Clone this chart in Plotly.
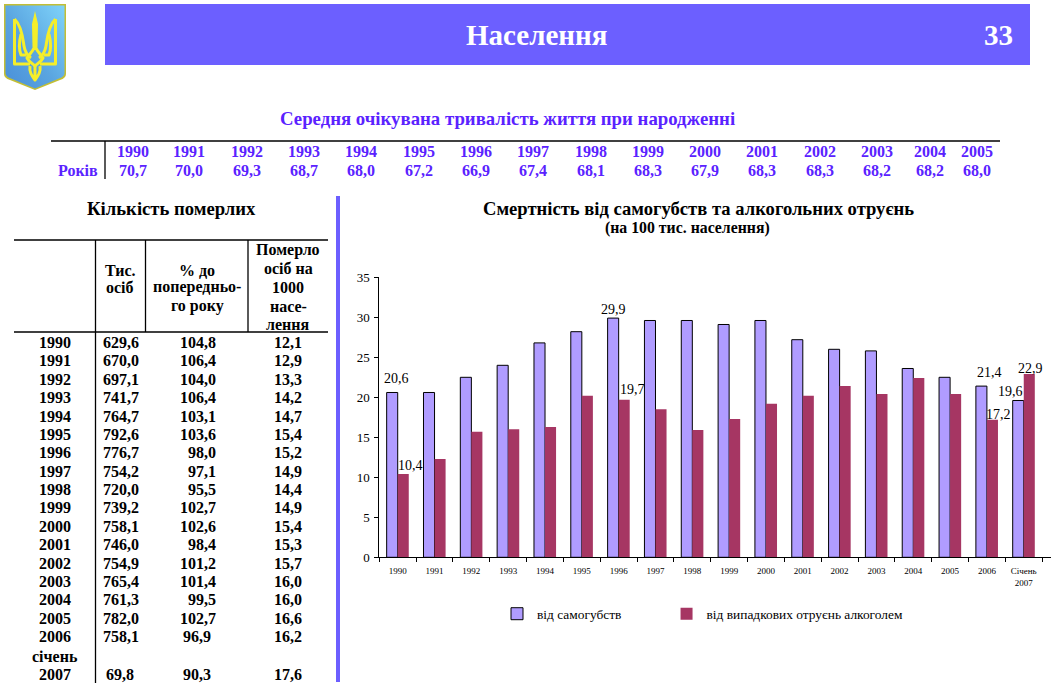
import base64
import plotly.graph_objects as go

categories = [str(y) for y in range(1990, 2007)] + ["Січень<br>2007"]
suicide = [20.6, 20.6, 22.5, 24.0, 26.8, 28.2, 29.9, 29.6, 29.6, 29.1, 29.6, 27.2, 26.0, 25.8, 23.6, 22.5, 21.4, 19.6]
alcohol = [10.4, 12.3, 15.7, 16.0, 16.3, 20.2, 19.7, 18.5, 15.9, 17.3, 19.2, 20.2, 21.4, 20.4, 22.4, 20.4, 17.2, 22.9]

life_years = ["1990", "1991", "1992", "1993", "1994", "1995", "1996", "1997", "1998", "1999", "2000", "2001", "2002", "2003", "2004", "2005"]
life_values = ["70,7", "70,0", "69,3", "68,7", "68,0", "67,2", "66,9", "67,4", "68,1", "68,3", "67,9", "68,3", "68,3", "68,2", "68,2", "68,0"]

death_years = [str(y) for y in range(1990, 2007)] + ["2007"]
death_total = ["629,6", "670,0", "697,1", "741,7", "764,7", "792,6", "776,7", "754,2", "720,0", "739,2", "758,1", "746,0", "754,9", "765,4", "761,3", "782,0", "758,1", "69,8"]
death_pct = ["104,8", "106,4", "104,0", "106,4", "103,1", "103,6", "98,0", "97,1", "95,5", "102,7", "102,6", "98,4", "101,2", "101,4", "99,5", "102,7", "96,9", "90,3"]
death_rate = ["12,1", "12,9", "13,3", "14,2", "14,7", "15,4", "15,2", "14,9", "14,4", "14,9", "15,4", "15,3", "15,7", "16,0", "16,0", "16,6", "16,2", "17,6"]

W, H = 1051, 691
SERIF = "Liberation Serif"
PURPLE = "#5A22FF"
BANNER = "#6C5FFF"


def px(x):
    return x / W


def py(y):
    return 1 - y / H


ann = []


def text(x, y, s, size=16, color="#000", anchor="center", bold=True):
    ann.append(dict(
        x=px(x), y=py(y), xref="paper", yref="paper", text=f"<b>{s}</b>" if bold else s,
        showarrow=False, xanchor=anchor, yanchor="middle",
        font=dict(family=SERIF, size=size, color=color),
        borderpad=0, borderwidth=0,
    ))


shapes = []


def rect(x0, y0, x1, y1, color):
    shapes.append(dict(type="rect", xref="paper", yref="paper", x0=px(x0), x1=px(x1),
                       y0=py(y1), y1=py(y0), fillcolor=color, line=dict(width=0), layer="below"))


def line(x0, y0, x1, y1, width=1.3, color="#000"):
    shapes.append(dict(type="line", xref="paper", yref="paper", x0=px(x0), x1=px(x1),
                       y0=py(y0), y1=py(y1), line=dict(color=color, width=width)))


# banner
rect(105, 4, 1030, 65, BANNER)
text(536, 35, "Населення", size=29, color="#fff")
text(998, 35, "33", size=29, color="#fff")

# life expectancy table
text(507, 119, "Середня очікувана тривалість життя при народженні", size=18.8, color=PURPLE)
line(51, 141, 1000, 141)
line(105, 141, 105, 179)
life_x = [133, 189, 247, 304, 361, 419, 476, 533, 591, 648, 705, 762, 820, 877, 930, 977]
for cx, yr, val in zip(life_x, life_years, life_values):
    text(cx, 152, yr, size=16, color=PURPLE)
    text(cx, 170, val, size=16, color=PURPLE)
text(78, 170, "Років", size=16, color=PURPLE)

# deaths table
rect(336, 196, 340, 682, BANNER)
text(171, 209, "Кількість померлих", size=18.7)
line(14, 240, 328, 240)
line(14, 332, 328, 332)
line(95.5, 240, 95.5, 683)
line(145.5, 240, 145.5, 332)
line(248, 240, 248, 332)
text(120, 270, "Тис.", size=16)
text(120, 287, "осіб", size=16)
text(197, 270, "% до", size=16)
text(197, 287, "попередньо-", size=16)
text(197, 306, "го року", size=16)
for i, s in enumerate(["Померло", "осіб на", "1000", "насе-", "лення"]):
    text(288, 250 + 18.7 * i, s, size=16)

row_y = [342.5 + 18.38 * i for i in range(17)] + [674]
for i, (yy, yr, tot, pct, rate) in enumerate(zip(row_y, death_years, death_total, death_pct, death_rate)):
    text(54.5, yy, yr, size=16)
    text(134 if i == 17 else 139, yy, tot, size=16, anchor="right")
    text(211 if i >= 16 else 215.5, yy, pct, size=16, anchor="right")
    text(302, yy, rate, size=16, anchor="right")
text(54.5, 656, "січень", size=16)

# chart titles
text(698, 208, "Смертність від самогубств та алкогольних отруєнь", size=18.6)
text(687, 228, "(на 100 тис. населення)", size=15.8)


# data labels, placed on the data through the axes
def label(idx, values, dx, dy):
    ann.append(dict(x=idx, y=values[idx], xref="x", yref="y",
                    text=f"{values[idx]:.1f}".replace(".", ","), showarrow=False,
                    xshift=dx, yshift=dy, font=dict(family=SERIF, size=14, color="#000")))


for idx, dx, dy in [(0, -1, 14), (6, -5, 9), (16, 3, 14), (17, -13, 9)]:
    label(idx, suicide, dx, dy)
for idx, dx, dy in [(0, 13, 9), (6, 14, 10), (16, 12, 5), (17, 7, 6)]:
    label(idx, alcohol, dx, dy)

fig = go.Figure()
# the no-break spaces widen the first legend entry to the reference spacing
fig.add_bar(name="від самогубств" + "\u00a0" * 12, x=categories, y=suicide,
            marker=dict(color="#B09CFF", line=dict(color="#000", width=1)))
fig.add_bar(name="від випадкових отруєнь алкоголем", x=categories, y=alcohol,
            marker=dict(color="#A63663", line=dict(width=0)))

svg = """<svg xmlns="http://www.w3.org/2000/svg" width="72" height="95" viewBox="0 0 72 95">
<defs><linearGradient id="g" x1="1" y1="0" x2="0" y2="1">
<stop offset="0" stop-color="#7FD3FA"/><stop offset="0.55" stop-color="#5AA5E0"/><stop offset="1" stop-color="#4A8FD8"/></linearGradient></defs>
<path d="M4 4H66V74Q66 78 60 80L35 90L10 80Q4 78 4 74Z" fill="#C2BE35"/>
<path d="M5.500 5.500H64.500V73Q64.500 76.500 59 78.500L35 88.500L11 78.500Q5.500 76.500 5.500 73Z" fill="url(#g)"/>
<path d="M35 11L38 24L37.500 47H32.500L32 24Z" fill="#F5EE2A"/>
<g fill="none" stroke="#F5EE2A" stroke-width="3" stroke-linejoin="round">
<path d="M14.500 19V64H30M14.500 19C22 26 23 40 24 46C25 52 28 56 31 58" />
<path d="M55.500 19V64H40M55.500 19C48 26 47 40 46 46C45 52 42 56 39 58" />
<path d="M21 34C19 42 19 50 21 55H26M49 34C51 42 51 50 49 55H44" />
<path d="M27 58C30 54 33 51 35 46C37 51 40 54 43 58C41 62 38 63 35 66C32 63 29 62 27 58Z" />
<path d="M35 66V80M30 66C29 72 32 76 35 80C38 76 41 72 40 66" />
</g></svg>"""
logo = "data:image/svg+xml;base64," + base64.b64encode(svg.encode()).decode()

fig.update_layout(
    width=W, height=H, margin=dict(l=0, r=0, t=0, b=0, autoexpand=False),
    paper_bgcolor="#fff", plot_bgcolor="#fff",
    barmode="group", bargap=0.4, bargroupgap=0,
    showlegend=True,
    legend=dict(orientation="h", x=px(497), y=py(614), xanchor="left", yanchor="middle",
                traceorder="normal",
                font=dict(family=SERIF, size=13.4, color="#000"), bgcolor="rgba(0,0,0,0)"),
    xaxis=dict(domain=[px(379.3), 1], type="category", range=[-0.5, 17.74], tickson="boundaries",
               ticks="outside", ticklen=4, tickcolor="#000", tickwidth=1, showline=True,
               linecolor="#000", linewidth=1, showgrid=False, zeroline=False, tickangle=0,
               ticklabelstandoff=5,
               tickfont=dict(family=SERIF, size=9, color="#000")),
    yaxis=dict(domain=[py(557.3), py(277.3)], range=[0, 35], tickvals=list(range(0, 40, 5)),
               ticks="outside", ticklen=4, tickcolor="#000", tickwidth=1, showline=True,
               linecolor="#000", linewidth=1, showgrid=False, zeroline=False,
               ticklabelstandoff=2,
               tickfont=dict(family=SERIF, size=13, color="#000")),
    annotations=ann, shapes=shapes,
    images=[dict(source=logo, xref="paper", yref="paper", x=0, y=1, sizex=px(72), sizey=95 / H,
                 xanchor="left", yanchor="top", sizing="stretch", layer="above")],
)

fig.write_html("out.html", config={"displayModeBar": False},
               post_script="document.body.style.margin='0';")
